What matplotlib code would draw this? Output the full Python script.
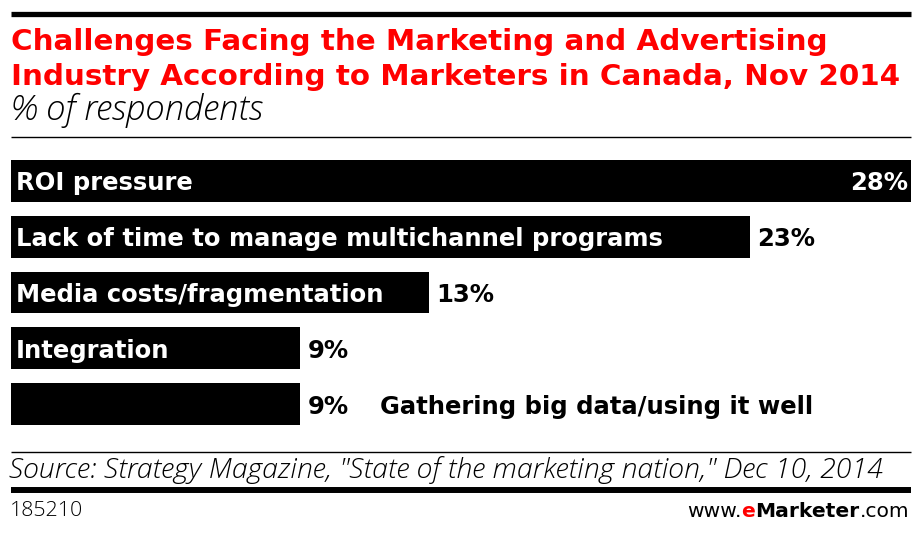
import matplotlib
matplotlib.use("Agg")
import matplotlib.pyplot as plt
from matplotlib.lines import Line2D

categories = ["ROI pressure",
              "Lack of time to manage multichannel programs",
              "Media costs/fragmentation",
              "Integration",
              "Gathering big data/using it well"]
values = [28, 23, 13, 9, 9]
value_labels = ["28%", "23%", "13%", "9%", "9%"]

title_lines = ["Challenges Facing the Marketing and Advertising",
               "Industry According to Marketers in Canada, Nov 2014"]
subtitle = "% of respondents"
source = 'Source: Strategy Magazine, "State of the marketing nation," Dec 10, 2014'
chart_id = "185210"

W, H = 922, 533
fig = plt.figure(figsize=(W / 100, H / 100), dpi=100)
fig.patch.set_facecolor("white")

BOLD = dict(family=["DejaVu Sans"], fontweight="bold")
LIGHTI = dict(family=["Open Sans", "DejaVu Sans"], style="italic", fontweight=300,
              fontstretch="normal")
LIGHT = dict(family=["Open Sans", "DejaVu Sans"], fontweight=300, fontstretch="normal")


def fx(px):
    return px / W


def fy(py):
    return 1 - py / H


# axes: x from 11 to 911 px, bars between y=160 and y=425
top_px, bot_px = 160, 425
ax = fig.add_axes([fx(11), fy(bot_px), fx(911) - fx(11), fy(top_px) - fy(bot_px)])
n = len(categories)
bh = 0.75
ax.set_xlim(0, max(values))
ax.set_ylim(n - 1 + bh / 2, -bh / 2)
ax.barh(range(n), values, height=bh, color="black")
ax.axis("off")

LBL = 17.5
for i, (cat, v, lab) in enumerate(zip(categories, values, value_labels)):
    if i == 0:
        ax.text(v - 0.09, i, lab, color="white", ha="right", va="center_baseline",
                fontsize=LBL, **BOLD)
    else:
        ax.text(v + 0.22, i, lab, color="black", ha="left", va="center_baseline",
                fontsize=LBL, **BOLD)
    if i < n - 1:
        ax.text(0.15, i, cat, color="white", ha="left", va="center_baseline",
                fontsize=LBL, **BOLD)
    else:
        ax.text(v + 2.48, i, cat, color="black", ha="left", va="center_baseline",
                fontsize=LBL, **BOLD)


# rules
def hline(y, lw):
    fig.add_artist(Line2D([fx(11), fx(911)], [fy(y), fy(y)], color="black",
                          linewidth=lw, solid_capstyle="butt"))


hline(13.5, 3.8)
hline(137, 1.0)
hline(452, 1.0)
hline(490, 4.3)

fig.text(fx(11), fy(50), title_lines[0], color="#ff0000", fontsize=21.2,
         ha="left", va="baseline", **BOLD)
fig.text(fx(11), fy(85), title_lines[1], color="#ff0000", fontsize=21.2,
         ha="left", va="baseline", **BOLD)
fig.text(fx(11), fy(120), subtitle, color="black", fontsize=25,
         ha="left", va="baseline", **LIGHTI)
fig.text(fx(9), fy(478), source, color="black", fontsize=20.5,
         ha="left", va="baseline", **LIGHTI)
fig.text(fx(10), fy(516), chart_id, color="black", fontsize=15.4,
         ha="left", va="baseline", **LIGHT)

# www.eMarketer.com composed right-to-left
FS = 14.6
base_y = fy(517) * H
fig.canvas.draw()
r = fig.canvas.get_renderer()
t4 = fig.text(909, base_y, ".com", color="black", fontsize=FS, family=["DejaVu Sans"],
              ha="right", va="baseline", transform=None)
bb = t4.get_window_extent(r)
t3 = fig.text(bb.x0, base_y, "Marketer", color="black", fontsize=FS, family=["DejaVu Sans"],
              fontweight="bold", ha="right", va="baseline", transform=None)
bb = t3.get_window_extent(r)
t2 = fig.text(bb.x0, base_y, "e", color="#ff0000", fontsize=FS, family=["DejaVu Sans"],
              fontweight="bold", ha="right", va="baseline", transform=None)
bb = t2.get_window_extent(r)
fig.text(bb.x0, base_y, "www.", color="black", fontsize=FS, family=["DejaVu Sans"],
         ha="right", va="baseline", transform=None)

fig.savefig("out.png", dpi=100, facecolor="white")
